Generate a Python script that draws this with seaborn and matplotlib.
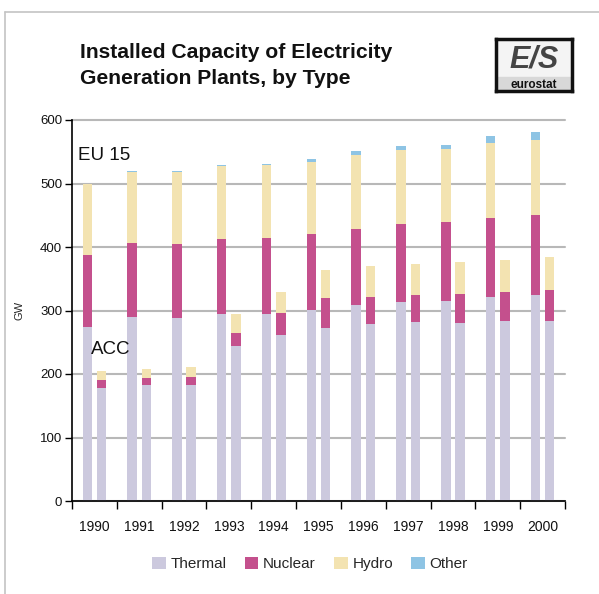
import numpy as np
import pandas as pd
import matplotlib
matplotlib.use("Agg")
import matplotlib.pyplot as plt
from matplotlib.patches import Patch
from matplotlib.lines import Line2D
import seaborn as sns

# Installed capacity (GW) per year and plant type
years = ["1990", "1991", "1992", "1993", "1994", "1995",
         "1996", "1997", "1998", "1999", "2000"]
regions = ["EU 15", "ACC"]

eu_thermal = [274, 290, 288, 294, 294, 301, 309, 313, 315, 321, 324]
eu_nuclear = [113, 116, 117, 118, 120, 119, 119, 123, 124, 125, 127]
eu_hydro = [113, 112, 113, 115, 115, 114, 117, 117, 115, 118, 118]
eu_other = [0, 2, 2, 2, 2, 5, 6, 6, 7, 11, 12]

acc_thermal = [178, 182, 183, 244, 261, 272, 279, 282, 280, 283, 283]
acc_nuclear = [12, 12, 12, 21, 35, 47, 42, 42, 46, 46, 49]
acc_hydro = [15, 14, 16, 29, 33, 45, 49, 49, 50, 51, 52]
acc_other = [0, 0, 0, 0, 0, 0, 0, 0, 0, 0, 0]

types = ["Thermal", "Nuclear", "Hydro", "Other"]
colors = {"Thermal": "#CCC9DE", "Nuclear": "#C4508D",
          "Hydro": "#F3E3B1", "Other": "#8EC4E4"}

sns.set_theme(style="white")
plt.rcParams["font.family"] = ["Liberation Sans", "DejaVu Sans"]

rows = []
for reg, parts in (("EU 15", (eu_thermal, eu_nuclear, eu_hydro, eu_other)),
                   ("ACC", (acc_thermal, acc_nuclear, acc_hydro, acc_other))):
    for i, yr in enumerate(years):
        vals = [p[i] for p in parts]
        cum = np.cumsum(vals)
        for t, c in zip(types, cum):
            rows.append({"year": yr, "region": reg, "type": t, "top": c})
df = pd.DataFrame(rows)

fig = plt.figure(figsize=(5.99, 5.94), dpi=100)
ax = fig.add_axes([72 / 599, 1 - 501 / 594, (565 - 72) / 599, (501 - 120) / 594])

# Stacked bars: draw cumulative tops from the highest layer down
for t in reversed(types):
    sub = df[df["type"] == t]
    sns.barplot(data=sub, x="year", y="top", hue="region", order=years,
                hue_order=regions, palette=[colors[t], colors[t]],
                dodge=True, width=0.64, gap=0.34, saturation=1,
                errorbar=None, legend=False, linewidth=0, ax=ax)

ax.set_xlim(-0.5, len(years) - 0.5)
ax.set_ylim(0, 600)
ax.set_yticks(np.arange(0, 601, 100))
ax.yaxis.grid(True, color="#b8b8b8", linewidth=1.5, clip_on=False)
ax.set_axisbelow(True)

ax.set_xticks(np.arange(-0.5, len(years), 1))
ax.set_xticklabels([])
ax.set_xticks(np.arange(len(years)), minor=True)
ax.set_xticklabels(years, minor=True)
ax.tick_params(axis="x", which="major", length=6, width=1, color="black",
               direction="out", bottom=True)
ax.tick_params(axis="x", which="minor", length=0, pad=14, labelsize=10,
               labelcolor="#111111")
ax.tick_params(axis="y", length=5, width=1, color="black", direction="out",
               left=True, labelsize=9.5, labelcolor="#111111", pad=2)

for side in ("top", "right"):
    ax.spines[side].set_visible(False)
for side in ("left", "bottom"):
    ax.spines[side].set_color("black")
    ax.spines[side].set_linewidth(1.2)

ax.set_xlabel("")
ax.set_ylabel("GW", fontsize=8, labelpad=11)

ax.text(0.012, 544, "EU 15", transform=ax.get_yaxis_transform(),
        fontsize=13.5, color="#111111", va="center", ha="left")
ax.text(0.038, 238, "ACC", transform=ax.get_yaxis_transform(),
        fontsize=13.5, color="#111111", va="center", ha="left")

# Title
fig.text(80 / 599, 1 - 53 / 594, "Installed Capacity of Electricity",
         fontsize=15.2, fontweight="bold", color="#111111", va="center")
fig.text(80 / 599, 1 - 79 / 594, "Generation Plants, by Type",
         fontsize=15.2, fontweight="bold", color="#111111", va="center")

# Eurostat mark
lax = fig.add_axes([496 / 599, 1 - 91 / 594, 76 / 599, 52 / 594])
lax.set_xlim(0, 1)
lax.set_ylim(0, 1)
lax.set_xticks([])
lax.set_yticks([])
lax.set_facecolor("#f4f4f4")
for s in lax.spines.values():
    s.set_color("#111111")
    s.set_linewidth(2.5)
lax.text(0.5, 0.6, "E/S", fontsize=22, fontweight="bold", style="italic",
         color="#444444", ha="center", va="center")
lax.axhspan(0, 0.26, color="#d8d8d8")
lax.text(0.5, 0.12, "eurostat", fontsize=8.5, fontweight="bold",
         color="#111111", ha="center", va="center")

# Legend
handles = [Patch(facecolor=colors[t], edgecolor="none", label=t) for t in types]
fig.legend(handles=handles, loc="center", bbox_to_anchor=(310 / 599, 1 - 564 / 594),
           ncol=4, frameon=False, fontsize=11, handlelength=0.9,
           handleheight=0.9, handletextpad=0.3, columnspacing=1.2)

# Frame lines along the top and left edges
fig.add_artist(Line2D([5 / 599, 5 / 599], [0, 1 - 12 / 594],
                      transform=fig.transFigure, color="#c4c4c4", linewidth=1.2))
fig.add_artist(Line2D([5 / 599, 1], [1 - 12 / 594, 1 - 12 / 594],
                      transform=fig.transFigure, color="#c4c4c4", linewidth=1.2))

fig.savefig("out.png", dpi=100)
